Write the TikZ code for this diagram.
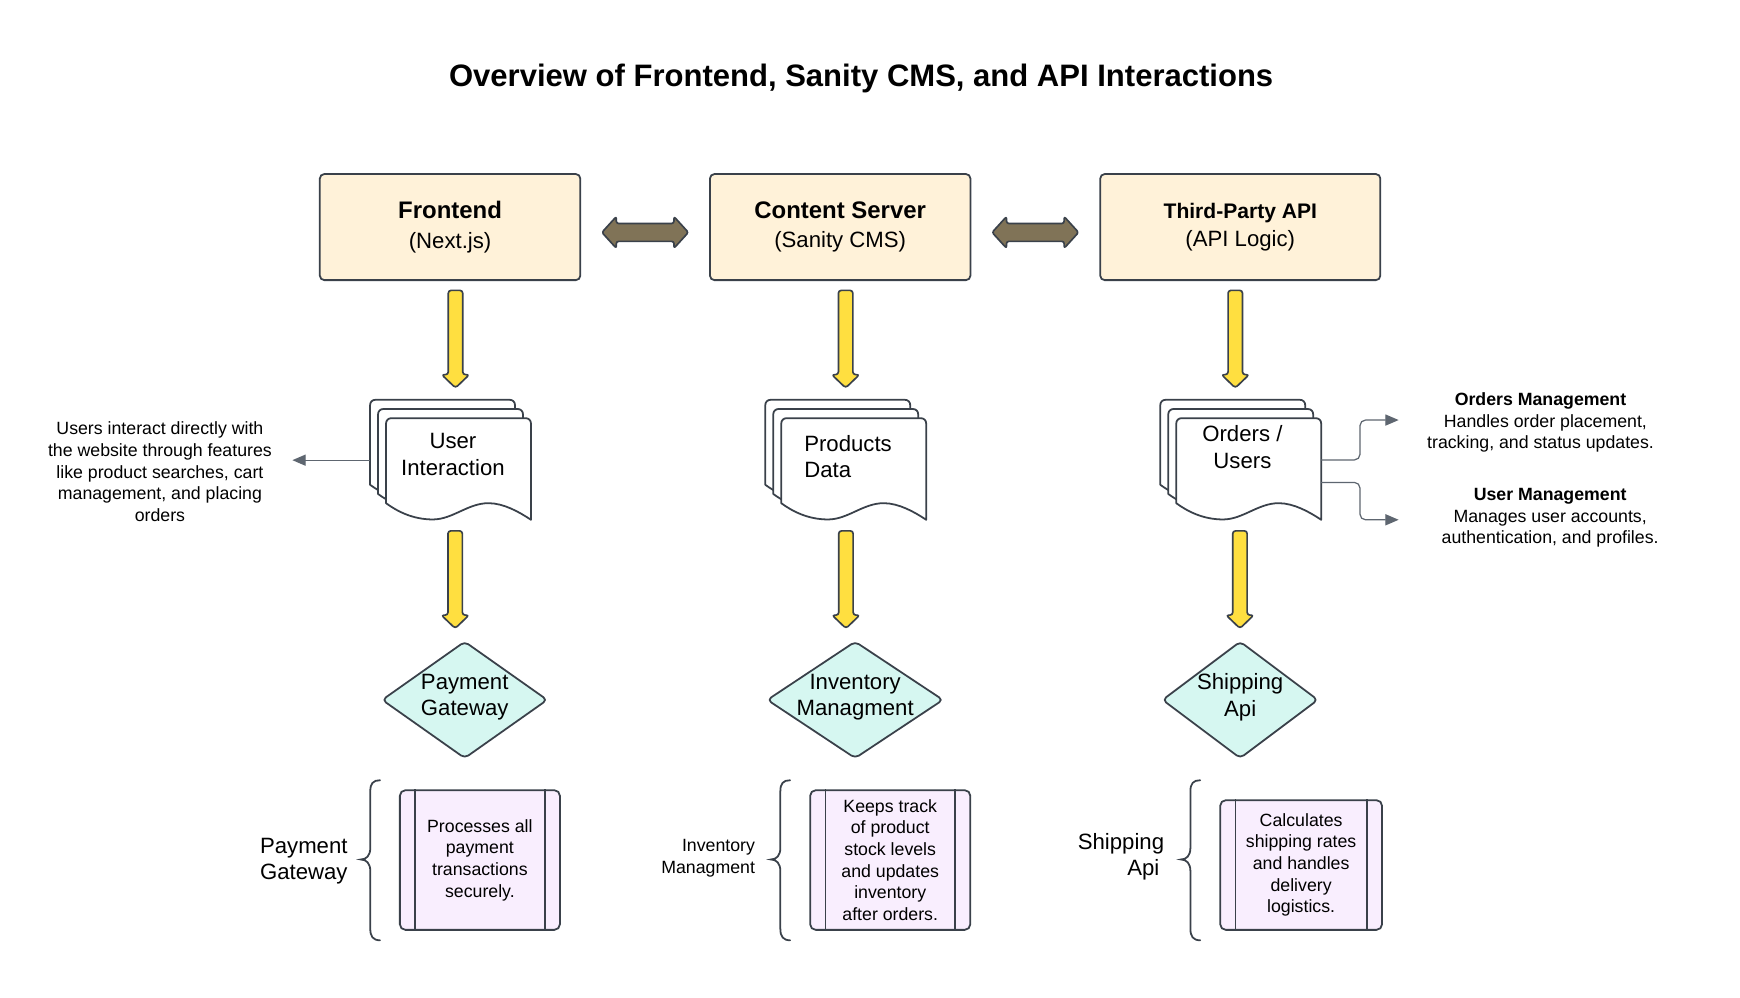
\documentclass[tikz,border=0pt]{standalone}
\usepackage{fontspec}
\setmainfont{Liberation Sans}
\usetikzlibrary{arrows.meta,calc}
\definecolor{ln}{HTML}{3A414A}
\definecolor{cream}{HTML}{FFF2D9}
\definecolor{brownarr}{HTML}{807357}
\definecolor{yel}{HTML}{FFDF40}
\definecolor{tealfill}{HTML}{D6F7F1}
\definecolor{lav}{HTML}{F9EEFE}
\definecolor{cg}{HTML}{5E6670}
\newcommand\fsz[2]{\fontsize{#1}{#2}\selectfont}
\newcommand\yarr[2]{%
  \draw[yarrow] ($(#1)+(-6.5,0)$) -- ($(#1)+(6.5,0)$) -- ($(#2)+(6.5,-12)$) -- ($(#2)+(12.5,-12)$) -- (#2) -- ($(#2)+(-12.5,-12)$) -- ($(#2)+(-6.5,-12)$) -- cycle;}
\newcommand\dblarrow[1]{%
  \draw[dblarr] ($(#1)+(-39,0)$) -- ++(13,-14.3) -- ++(0,6.2) -- ++(52,0) -- ++(0,-6.2) -- ++(13,14.3) -- ++(-13,14.3) -- ++(0,-6.2) -- ++(-52,0) -- ++(0,6.2) -- cycle;}
\newcommand\curly[1]{%
  \draw[curlyb] ($(#1)+(17.3,-71.5)$) .. controls ($(#1)+(11,-71.5)$) and ($(#1)+(8.5,-68.5)$) .. ($(#1)+(8.5,-61.5)$) -- ($(#1)+(8.5,-10.5)$) .. controls ($(#1)+(8.5,-3.5)$) and ($(#1)+(5,0)$) .. (#1) .. controls ($(#1)+(5,0)$) and ($(#1)+(8.5,3.5)$) .. ($(#1)+(8.5,10.5)$) -- ($(#1)+(8.5,62.5)$) .. controls ($(#1)+(8.5,69.5)$) and ($(#1)+(11,72.9)$) .. ($(#1)+(17.3,72.9)$);}
\newcommand\diam[3]{% center, half width, half height
  \draw[dia] ($(#1)+(-#2/2,-#3/2)$) -- ($(#1)+(0,-#3)$) -- ($(#1)+(#2,0)$) -- ($(#1)+(0,#3)$) -- ($(#1)+(-#2,0)$) -- cycle;}
\tikzset{multidoc/.pic={
  \foreach \o in {2,1,0}{
    \draw[docpage,shift={(-7.2*\o,-8.3*\o)}] (0,76.7) -- (0,5) .. controls (0,2) and (2,0) .. (5,0) -- (125.8,0) .. controls (128.8,0) and (130.8,2) .. (130.8,5) -- (130.8,91.7) .. controls (120,84.5) and (106,76.7) .. (92.4,76.7) .. controls (74,76.7) and (60,91.4) .. (42.3,91.4) .. controls (24,91.4) and (10,84) .. (0,76.7) -- cycle;
  }
}}
\begin{document}
\begin{tikzpicture}[x=1pt,y=-1pt,
  topbox/.style={draw=ln,fill=cream,line width=1.6pt,rounded corners=4pt,align=center,inner sep=0pt},
  dblarr/.style={draw=ln,fill=brownarr,line width=1.5pt,rounded corners=2pt,line join=round},
  yarrow/.style={draw=ln,fill=yel,line width=1.5pt,rounded corners=2.5pt,line join=round},
  docpage/.style={draw=ln,fill=white,line width=1.6pt,line join=round},
  dia/.style={draw=ln,fill=tealfill,line width=1.6pt,rounded corners=4pt,line join=round},
  procbox/.style={draw=ln,fill=lav,line width=1.6pt,rounded corners=5pt},
  procline/.style={draw=ln,line width=1.6pt},
  curlyb/.style={draw=ln,line width=1.6pt,line cap=round},
  conn/.style={draw=cg,line width=1.1pt,rounded corners=5pt,-{Triangle[length=12pt,width=10pt]}},
  txt/.style={inner sep=0pt,align=center,font=\fsz{16}{19.55}},
  bigtxt/.style={inner sep=0pt,align=center,font=\fsz{20}{24}},
]
\fill[white] (0,0) rectangle (1570,900);
\path[use as bounding box] (0,0) rectangle (1570,900);

% title
\node[inner sep=0pt,font=\fsz{28}{34}\bfseries] (title) at (777,71) {Overview of Frontend, Sanity CMS, and API Interactions};

% top boxes
\node[topbox,minimum width=235pt,minimum height=95.7pt,font=\fsz{20}{26.6}] (fe) at (406.1,204.9) {{\fsz{21.6}{26.6}\bfseries Frontend}\\(Next.js)};
\node[topbox,minimum width=235pt,minimum height=95.7pt,font=\fsz{20}{26.6}] (cs) at (758.1,204.9) {{\fsz{21.6}{26.6}\bfseries Content Server}\\(Sanity CMS)};
\node[topbox,minimum width=252.7pt,minimum height=95.7pt,font=\fsz{20}{25}] (tp) at (1119.1,204.9) {{\fsz{19}{25}\bfseries Third-Party API}\\(API Logic)};

% double arrows
\coordinate (d1) at ($(fe.east)!0.5!(cs.west)+(0,4.8)$);
\coordinate (d2) at ($(cs.east)!0.5!(tp.west)+(0,4.8)$);
\dblarrow{d1}
\dblarrow{d2}

% top yellow arrows
\coordinate (a1s) at (411,262);   \coordinate (a1e) at (411,350);
\coordinate (a2s) at (763,262);   \coordinate (a2e) at (763,350);
\coordinate (a3s) at (1114.6,262);\coordinate (a3e) at (1114.6,350);
\yarr{a1s}{a1e}
\yarr{a2s}{a2e}
\yarr{a3s}{a3e}

% documents
\coordinate (uiP) at (348.3,377.3);
\coordinate (pdP) at (704.9,377.3);
\coordinate (ouP) at (1061.3,377.3);
\pic at (uiP) {multidoc};
\pic at (pdP) {multidoc};
\pic at (ouP) {multidoc};
\node[bigtxt] (ui) at (408.7,410) {User\\Interaction};
\node[bigtxt,anchor=west,align=left] (pd) at (725.5,412) {Products\\Data};
\node[bigtxt] (ou) at (1121,403.5) {Orders /\\Users};

% left description
\node[txt] (desc) at (144.3,425.7) {Users interact directly with\\the website through features\\like product searches, cart\\management, and placing\\orders};
\coordinate (uiL) at ($(uiP)+(-14.4,37.9)$);
\coordinate (descR) at (263.8,415.2);
\draw[conn] (uiL) -- (descR);

% right descriptions
\node[txt] (omt) at (1390,381.4) {\textbf{Orders Management}\\\hbox to 8.8pt{}Handles order placement,\\tracking, and status updates.};
\node[txt] (umt) at (1398.7,467.2) {\textbf{User Management}\\Manages user accounts,\\authentication, and profiles.};
\coordinate (ouR1) at ($(ouP)+(130.8,37.7)$);
\coordinate (ouR2) at ($(ouP)+(130.8,58)$);
\coordinate (omA) at (1262,379);
\coordinate (umA) at (1262,469);
\draw[conn] (ouR1) -- ++(35,0) |- (omA);
\draw[conn] (ouR2) -- ++(35,0) |- (umA);

% lower yellow arrows
\coordinate (b1s) at (410.7,479);  \coordinate (b1e) at (410.7,567);
\coordinate (b2s) at (763.3,479);  \coordinate (b2e) at (763.3,567);
\coordinate (b3s) at (1118.8,479); \coordinate (b3e) at (1118.8,567);
\yarr{b1s}{b1e}
\yarr{b2s}{b2e}
\yarr{b3s}{b3e}

% diamonds
\coordinate (pgC) at (419.3,631.5);
\coordinate (imC) at (771.6,631.5);
\coordinate (saC) at (1119,631.5);
\diam{pgC}{74.4}{52.5}
\diam{imC}{79.2}{52.5}
\diam{saC}{70}{52.5}
\node[bigtxt] (pg) at ($(pgC)+(0,-2.5)$) {Payment\\Gateway};
\node[bigtxt] (im) at ($(imC)+(0,-2.5)$) {Inventory\\Managment};
\node[bigtxt] (sa) at ($(saC)+(0,-2.5)$) {Shipping\\Api};

% bottom process boxes
\node[procbox,txt,minimum width=144.4pt,minimum height=126pt] (pb) at (433,776) {Processes all\\payment\\transactions\\securely.};
\node[procbox,txt,minimum width=144.5pt,minimum height=126pt] (ib) at (803.25,776) {Keeps track\\of product\\stock levels\\and updates\\inventory\\after orders.};
\node[procbox,txt,minimum width=146pt,minimum height=117pt] (sb) at (1174,780.5) {Calculates\\shipping rates\\and handles\\delivery\\logistics.};
\foreach \b in {pb,ib,sb}{
  \draw[procline] ($(\b.north west)+(14.6,0)$) -- ($(\b.south west)+(14.6,0)$);
  \draw[procline] ($(\b.north east)+(-14.3,0)$) -- ($(\b.south east)+(-14.3,0)$);
}

% braces
\coordinate (br1) at (325.6,775.5);
\coordinate (br2) at (695.6,775.5);
\coordinate (br3) at (1065.6,775.5);
\curly{br1}
\curly{br2}
\curly{br3}

% brace labels
\node[bigtxt,anchor=east,align=right] (pgl) at (313.8,777) {Payment\\Gateway};
\node[txt,anchor=east,align=right] (iml) at (681.4,774.3) {Inventory\\Managment};
\node[bigtxt,anchor=east,align=right] (sal) at (1050.6,773) {Shipping\\Api\hbox to 4.3pt{}};
\end{tikzpicture}
\end{document}
